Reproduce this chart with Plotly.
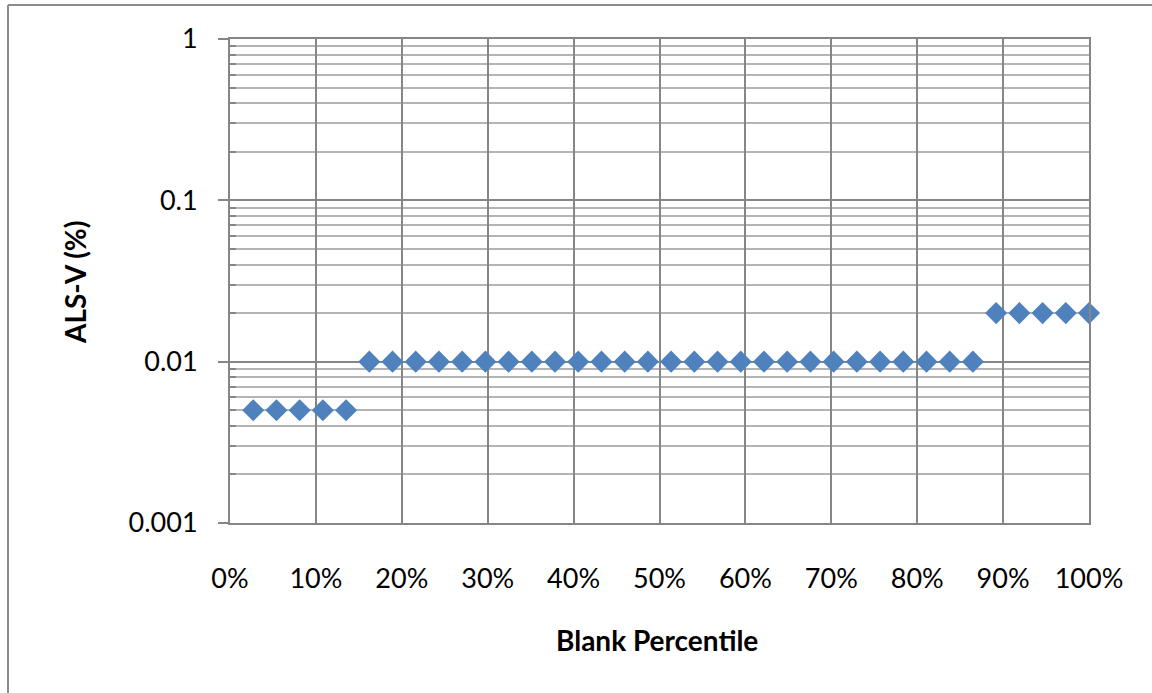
import plotly.graph_objects as go

# Blank percentile (fraction) and ALS-V (%) values
percentiles = [i / 37 for i in range(1, 38)]
als_v = [0.005] * 5 + [0.01] * 27 + [0.02] * 5

y_tickvals = [0.001, 0.01, 0.1, 1]
y_ticktext = ["0.001", "0.01", "0.1", "1"]
x_tickvals = [i / 10 for i in range(11)]
x_ticktext = [f"{i * 10}%" for i in range(11)]

minor_vals = [m * 10 ** e for e in (-3, -2, -1) for m in range(2, 10)]

MAJOR = "#868686"
MINOR = "#b4b4b4"
FONT = "Lato, Open Sans, sans-serif"

fig = go.Figure()
fig.add_trace(go.Scatter(
    x=percentiles, y=als_v, mode="markers",
    marker=dict(symbol="diamond", size=17, color="#4F81BD"),
    cliponaxis=False, showlegend=False,
))

fig.update_layout(
    width=1152, height=693,
    margin=dict(l=230, r=63, t=39, b=170),
    paper_bgcolor="white", plot_bgcolor="white",
    font=dict(family=FONT, color="black"),
)

fig.update_xaxes(
    range=[0, 1], tickvals=x_tickvals, ticktext=x_ticktext,
    showgrid=True, gridcolor=MAJOR, gridwidth=2,
    showline=True, linecolor=MAJOR, linewidth=2, mirror=True,
    ticks="", zeroline=False,
    tickfont=dict(size=27, family=FONT),
    ticklabelstandoff=31,
)
fig.update_yaxes(
    type="log", range=[-3, 0], tickvals=y_tickvals, ticktext=y_ticktext,
    showgrid=True, gridcolor=MAJOR, gridwidth=2,
    showline=True, linecolor=MAJOR, linewidth=2, mirror=True,
    ticks="outside", ticklen=10, tickcolor=MAJOR, tickwidth=2,
    tickfont=dict(size=27, family=FONT),
    ticklabelstandoff=15,
    minor=dict(tickmode="array", tickvals=minor_vals, ticks="inside",
               ticklen=6, tickcolor=MAJOR, tickwidth=2,
               showgrid=True, gridcolor=MINOR, gridwidth=2),
)

# plot-area size in pixels, used to place titles and frame in paper units
pw, ph = 1152 - 230 - 63, 693 - 39 - 170


def fx(px):
    return (px - 230) / pw


def fy(py):
    return (693 - 170 - py) / ph


fig.add_annotation(text="<b>ALS-V (%)</b>", x=fx(75), y=fy(283), xref="paper", yref="paper",
                   xanchor="center", yanchor="middle",
                   showarrow=False, textangle=-90, font=dict(size=28, family=FONT))
fig.add_annotation(text="<b>Blank Percentile</b>", x=fx(657), y=fy(640), xref="paper", yref="paper",
                   xanchor="center", yanchor="middle",
                   showarrow=False, font=dict(size=28, family=FONT))

# outer chart frame (left and top edges)
fig.add_shape(type="line", xref="paper", yref="paper",
              x0=fx(8), x1=fx(8), y0=fy(5), y1=fy(700),
              line=dict(color="#8c8c8c", width=2))
fig.add_shape(type="line", xref="paper", yref="paper",
              x0=fx(8), x1=fx(1160), y0=fy(5), y1=fy(5),
              line=dict(color="#8c8c8c", width=2))

fig.write_html("out.html")
